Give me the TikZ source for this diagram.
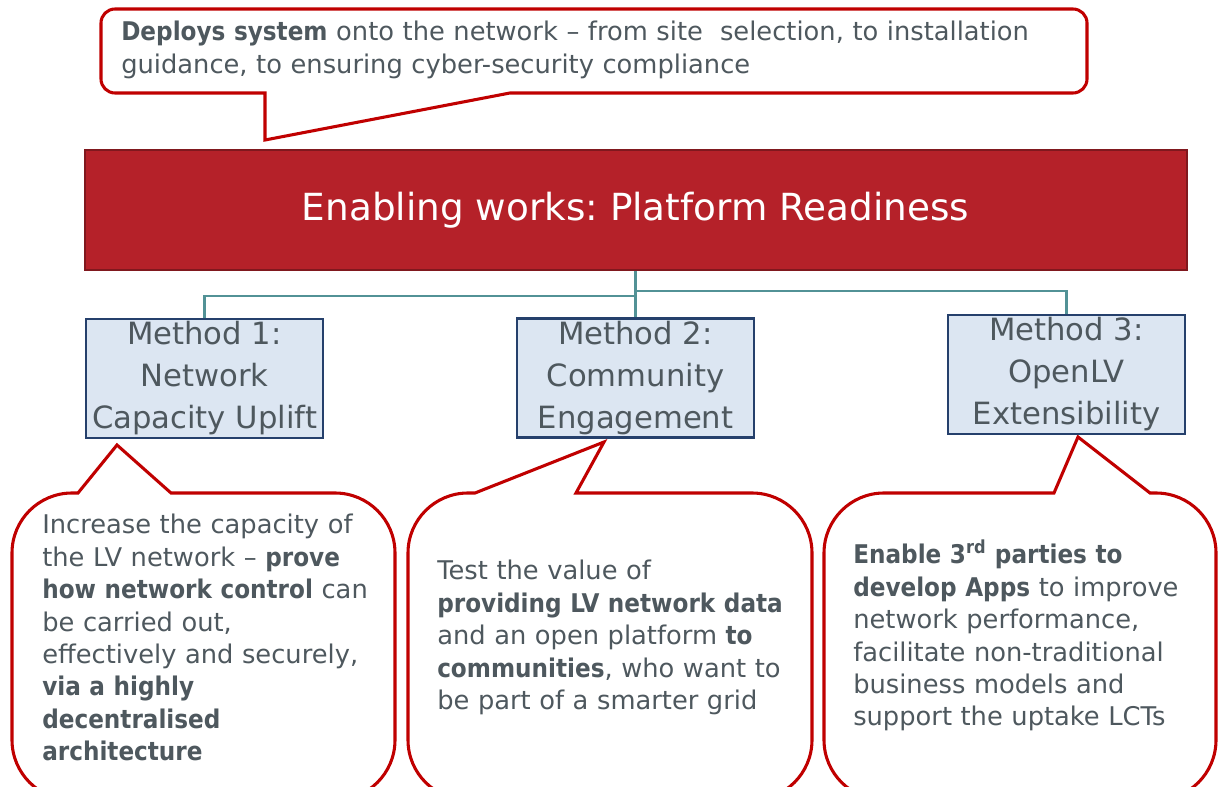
\documentclass[tikz,border=0pt]{standalone}
\usepackage{fontspec}
\IfFontExistsTF{DejaVu Sans Condensed Bold}
  {\setmainfont{DejaVu Sans}[BoldFont={DejaVu Sans Condensed Bold}]}
  {\setmainfont{DejaVu Sans}[BoldFeatures={FakeBold=2}]}
\frenchspacing

\definecolor{enablered}{RGB}{181,33,41}
\definecolor{enableedge}{RGB}{128,24,30}
\definecolor{calloutred}{RGB}{192,0,0}
\definecolor{methodfill}{RGB}{220,230,242}
\definecolor{methodedge}{RGB}{37,64,108}
\definecolor{linkteal}{RGB}{82,146,150}
\definecolor{textgray}{RGB}{78,88,94}

\tikzset{
  banner/.style={draw=enableedge, line width=1.5pt, fill=enablered, text=white,
    minimum width=826.5pt, minimum height=90pt, font=\fontsize{28}{34}\selectfont},
  method/.style={draw=methodedge, line width=2.2pt, fill=methodfill, text=textgray,
    minimum width=177.75pt, minimum height=89.25pt, align=center, inner sep=0pt,
    font=\fontsize{23}{31.5}\selectfont},
  link/.style={draw=linkteal, line width=2.2pt},
  callout/.style={draw=calloutred, line width=2.3pt, line join=miter},
  note/.style={anchor=base west, inner sep=0pt, align=left, text=textgray,
    font=\fontsize{19.3}{24.3}\selectfont}
}

\begin{document}
\begin{tikzpicture}[x=0.75pt, y=-0.75pt]
\useasboundingbox (0,0) rectangle (1218,787);
\clip (0,0) rectangle (1218,787);
\fill[white] (0,0) rectangle (1218,787);

% callouts
\draw[callout] (265,93) -- (265,140) -- (510,93) [rounded corners=10.5pt]
    -- (1087,93) -- (1087,9) -- (101,9) -- (101,93) [sharp corners] -- cycle;
\draw[callout] (78,493) -- (117,445) -- (171,493) [rounded corners=45pt]
    -- (395,493) -- (395,800) -- (12,800) -- (12,493) [sharp corners] -- cycle;
\draw[callout] (475,493) -- (604,442) -- (576,493) [rounded corners=45pt]
    -- (812,493) -- (812,800) -- (408,800) -- (408,493) [sharp corners] -- cycle;
\draw[callout] (1054,493) -- (1078,437) -- (1150,493) [rounded corners=45pt]
    -- (1216,493) -- (1216,800) -- (824,800) -- (824,493) [sharp corners] -- cycle;

% banner and methods
\node[banner] (banner) at (635.5,210) {Enabling works: Platform Readiness};
\node[method] (m1) at (204.5,378.5) {Method 1:\\Network\\Capacity Uplift};
\node[method] (m2) at (635.5,378) {Method 2:\\Community\\Engagement};
\node[method] (m3) at (1066.5,374.5) {Method 3:\\OpenLV\\Extensibility};

\draw[link] (banner.south) -- ++(0,25) -| (m1.north);
\draw[link] (banner.south) -- ++(0,20) -| (m3.north);
\draw[link] (banner.south) -- (m2.north);

% texts
\node[note, text width=712pt] (t0) at (121,41)
  {\textbf{Deploys system} onto the network -- from site\ \ selection, to installation\\
   guidance, to ensuring cyber-security compliance};
\node[note, text width=270pt] (t1) at (42,534)
  {Increase the capacity of\\
   the LV network -- \textbf{prove}\\
   \textbf{how network control} can\\
   be carried out,\\
   effectively and securely,\\
   \textbf{via a highly}\\
   \textbf{decentralised}\\
   \textbf{architecture}};
\node[note, text width=270pt] (t2) at (437,580)
  {Test the value of\\
   \textbf{providing LV network data}\\
   and an open platform \textbf{to}\\
   \textbf{communities}, who want to\\
   be part of a smarter grid};
\node[note, text width=270pt] (t3) at (853,564)
  {\textbf{Enable 3\textsuperscript{rd} parties to}\\
   \textbf{develop Apps} to improve\\
   network performance,\\
   facilitate non-traditional\\
   business models and\\
   support the uptake LCTs};
\end{tikzpicture}
\end{document}
